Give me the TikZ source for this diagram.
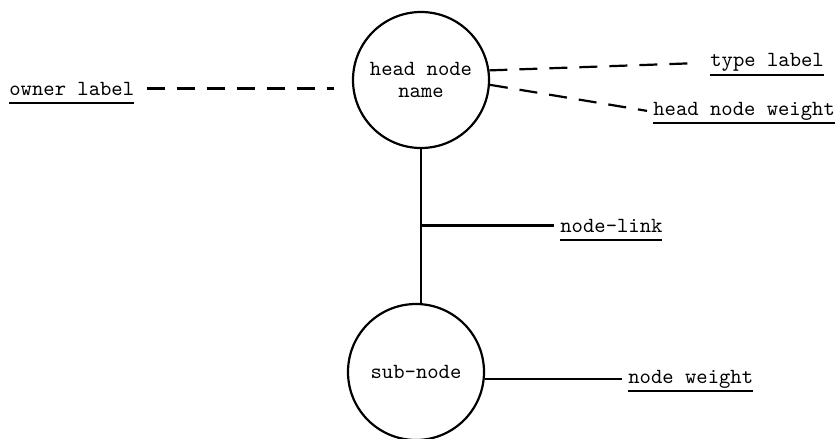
\documentclass[tikz,border=0pt]{standalone}
\usepackage{tikz}
\usetikzlibrary{calc}
\newcommand{\ulabel}[1]{\setbox0=\hbox{#1}\rlap{\smash{\vrule height -3.5pt depth 4.5pt width \wd0}}\box0}
\tikzstyle{unit}=[draw, circle, line width=1.1pt, minimum size=68pt, inner sep=0pt, align=center, font=\fontsize{10.8}{11}\selectfont\ttfamily]
\tikzstyle{lab}=[anchor=base west, inner sep=3pt, font=\fontsize{10.8}{11}\selectfont\ttfamily]
\tikzstyle{link}=[line width=1.1pt]
\tikzstyle{dashlink}=[line width=1.1pt, dash pattern=on 9pt off 6pt]

\begin{document}
\begin{tikzpicture}[x=0.5pt,y=-0.5pt]
        \useasboundingbox (0,0) rectangle (837,439);
        \node [unit] (head) at (421,80) {head node\\name};
        \node [unit] (sub) at (416,372) {sub-node};
        \node [lab] (owner) at (3,95) {\ulabel{owner label}};
        \node [lab] (type) at (704,67) {\ulabel{type label}};
        \node [lab] (hweight) at (647,115) {\ulabel{head node weight}};
        \node [lab] (nlink) at (554,232) {\ulabel{node-link}};
        \node [lab] (nweight) at (622,383) {\ulabel{node weight}};
        \coordinate (jn) at (head.south |- nlink.west);
        \draw [link] (head.south) -- (head.south |- sub.north);
        \draw [link] (jn) -- (nlink.west);
        \draw [link] (sub.east |- nweight.west) -- (nweight.west);
        \draw [dashlink, shorten <=3pt, shorten >=9pt] (owner.east) -- (owner.east -| head.west);
        \draw [dashlink, shorten >=8pt] (head.8) -- (type.west);
        \draw [dashlink] (head.-4) -- (hweight.west);
    \end{tikzpicture}
\end{document}
